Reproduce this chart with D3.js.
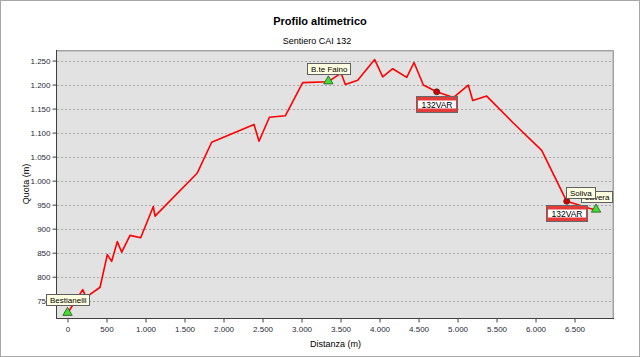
<!DOCTYPE html>
<html>
<head>
<meta charset="utf-8">
<script src="https://cdn.jsdelivr.net/npm/d3@7"></script>
<style>
  html, body { margin: 0; padding: 0; background: #fff; }
  svg { display: block; font-family: "Liberation Sans", Arial, sans-serif; }
</style>
</head>
<body>
<svg id="chart" width="640" height="357"></svg>
<script>
// ---- Data ----
const distances = [0, 195, 237, 417, 510, 566, 638, 695, 801, 938, 1100, 1122, 1664, 1848, 2391, 2455, 2588, 2792, 3015, 3344, 3506, 3562, 3720, 3938, 4041, 4169, 4349, 4442, 4562, 4733, 4946, 5138, 5195, 5374, 5715, 6079, 6400, 6700, 6776];
const elevations = [724, 773, 757, 778, 846, 832, 873, 851, 886, 881, 946, 926, 1016, 1080, 1117, 1082, 1132, 1135, 1204, 1206, 1224, 1200, 1209, 1252, 1216, 1233, 1215, 1246, 1199, 1185, 1173, 1199, 1167, 1176, 1120, 1063, 957, 942, 939];

const waypointNames = ["Bestianelli", "B.te Faino", "Lavera", "Soliva"];
const waypointDist  = [0, 3344, 6776, 6400];
const waypointElev  = [724, 1206, 939, 957];
const waypointType  = ["triangle", "triangle", "triangle", "circle"];

const tagLabels = ["132VAR", "132VAR"];
const tagDist   = [4733, 6400];
const tagElev   = [1185, 957];

const xTicks = [0, 500, 1000, 1500, 2000, 2500, 3000, 3500, 4000, 4500, 5000, 5500, 6000, 6500];
const yTicks = [750, 800, 850, 900, 950, 1000, 1050, 1100, 1150, 1200, 1250];

const title = "Profilo altimetrico";
const subtitle = "Sentiero CAI 132";
const xTitle = "Distanza (m)";
const yTitle = "Quota (m)";

// ---- Layout ----
const W = 640, H = 357;
const plot = { left: 57, right: 614, top: 50, bottom: 318 };
const locale = d3.formatLocale({ decimal: ",", thousands: ".", grouping: [3], currency: ["€", ""] });
const fmt = locale.format(",d");

const x = d3.scaleLinear().domain([-135, 7006]).range([plot.left, plot.right]);
const y = d3.scaleLinear().domain([714, 1272]).range([plot.bottom, plot.top]);

const svg = d3.select("#chart");

// outer frame
svg.append("rect").attr("x", 0.5).attr("y", 0.5).attr("width", W - 1).attr("height", H - 1)
  .attr("fill", "#fff").attr("stroke", "#a8a8a8").attr("stroke-width", 1);

// titles
svg.append("text").attr("x", 320).attr("y", 25).attr("text-anchor", "middle")
  .attr("font-size", 11).attr("font-weight", "bold").attr("fill", "#000").text(title);
svg.append("text").attr("x", 317).attr("y", 44).attr("text-anchor", "middle")
  .attr("font-size", 9).attr("fill", "#000").text(subtitle);

// plot background
svg.append("rect").attr("x", plot.left).attr("y", plot.top)
  .attr("width", plot.right - plot.left).attr("height", plot.bottom - plot.top)
  .attr("fill", "#e2e2e2");

// gridlines
svg.append("g").selectAll("line").data(yTicks).join("line")
  .attr("x1", plot.left).attr("x2", plot.right)
  .attr("y1", d => Math.round(y(d)) + 0.5).attr("y2", d => Math.round(y(d)) + 0.5)
  .attr("stroke", "#a8a8a8").attr("stroke-width", 1).attr("stroke-dasharray", "2,2");

// top/right bevel
svg.append("path")
  .attr("d", `M${plot.left},${plot.top + 0.5}H${plot.right - 0.5}V${plot.bottom}`)
  .attr("fill", "none").attr("stroke", "#a0a0a0").attr("stroke-width", 1);
svg.append("path")
  .attr("d", `M${plot.left},${plot.top + 1.5}H${plot.right - 1.5}V${plot.bottom}`)
  .attr("fill", "none").attr("stroke", "#c4c4c4").attr("stroke-width", 1);

// axes
const yAxis = d3.axisLeft(y).tickValues(yTicks).tickFormat(fmt).tickSize(4).tickPadding(2);
const gy = svg.append("g").attr("transform", `translate(${plot.left - 0.5},0)`).call(yAxis);
gy.select(".domain").attr("stroke", "#404040").attr("d", `M0,${plot.top}V${plot.bottom}`);
gy.selectAll(".tick line").attr("stroke", "#404040");
gy.selectAll(".tick text").attr("font-size", 8).attr("fill", "#2a2a3a").attr("font-family", "Liberation Sans, Arial, sans-serif");

const xAxis = d3.axisBottom(x).tickValues(xTicks).tickFormat(fmt).tickSize(4).tickPadding(4);
const gx = svg.append("g").attr("transform", `translate(0,${plot.bottom + 0.5})`).call(xAxis);
gx.select(".domain").attr("stroke", "#404040").attr("d", `M${plot.left - 1},0H${plot.right}`);
gx.selectAll(".tick line").attr("stroke", "#404040");
gx.selectAll(".tick text").attr("font-size", 8).attr("fill", "#2a2a3a").attr("font-family", "Liberation Sans, Arial, sans-serif");

// axis titles
svg.append("text").attr("x", (plot.left + plot.right) / 2).attr("y", 347).attr("text-anchor", "middle")
  .attr("font-size", 9).attr("fill", "#000").text(xTitle);
svg.append("text").attr("transform", `translate(29,${(plot.top + plot.bottom) / 2}) rotate(-90)`)
  .attr("text-anchor", "middle").attr("font-size", 9).attr("fill", "#000").text(yTitle);

// profile line
const profile = distances.map((d, i) => [d, elevations[i]]);
svg.append("path").datum(profile)
  .attr("d", d3.line().x(d => x(d[0])).y(d => y(d[1])))
  .attr("fill", "none").attr("stroke", "#ff0000").attr("stroke-width", 1.6)
  .attr("stroke-linejoin", "round");

// red tag boxes (132VAR)
const tags = tagLabels.map((t, i) => ({ t, d: tagDist[i], e: tagElev[i] }));
const tagG = svg.append("g").selectAll("g").data(tags).join("g")
  .attr("transform", d => `translate(${Math.round(x(d.d))},${Math.round(y(d.e))})`);
tagG.each(function(d) {
  const g = d3.select(this);
  const txt = g.append("text").attr("font-size", 8.5).attr("text-anchor", "middle").attr("y", 15.5)
    .attr("fill", "#000").text(d.t);
  const w = Math.round(txt.node().getComputedTextLength() + 10);
  g.insert("rect", "text").attr("x", -w / 2).attr("y", 4.5).attr("width", w).attr("height", 16)
    .attr("fill", "#e43b3b").attr("stroke", "#686868").attr("stroke-width", 1);
  g.insert("rect", "text").attr("x", -w / 2 + 1.5).attr("y", 8.5).attr("width", w - 3).attr("height", 8)
    .attr("fill", "#ffffff");
});

// waypoint markers
const wps = waypointNames.map((n, i) => ({ n, d: waypointDist[i], e: waypointElev[i], type: waypointType[i] }));
svg.append("g").selectAll("path").data(wps.filter(w => w.type === "triangle")).join("path")
  .attr("transform", d => `translate(${x(d.d)},${y(d.e) - 0.5})`)
  .attr("d", d3.symbol(d3.symbolTriangle, 38))
  .attr("fill", "#3ee02a").attr("stroke", "#305030").attr("stroke-width", 0.8);
svg.append("g").selectAll("circle").data(tags).join("circle")
  .attr("cx", d => x(d.d)).attr("cy", d => y(d.e)).attr("r", 3)
  .attr("fill", "#d00000").attr("stroke", "#502020").attr("stroke-width", 0.8);

// waypoint labels
const labG = svg.append("g").selectAll("g").data(wps).join("g");
labG.each(function(d) {
  const g = d3.select(this);
  const px = x(d.d), py = y(d.e);
  const txt = g.append("text").attr("font-size", 8).attr("fill", "#000").text(d.n);
  const tw = txt.node().getComputedTextLength();
  const w = Math.round(tw + 7), h = 11;
  let bx, by;
  if (d.type === "circle") { bx = Math.round(px) - 0.5; by = Math.round(py) - 2.5 - h; }
  else { bx = Math.round(px - w / 2) + 0.5; by = Math.round(py) - 7.5 - h; }
  g.insert("rect", "text").attr("x", bx).attr("y", by).attr("width", w).attr("height", h)
    .attr("fill", "#ffffe1").attr("stroke", "#606060").attr("stroke-width", 1);
  txt.attr("x", bx + 3.5).attr("y", by + 8.5);
});
</script>
</body>
</html>
